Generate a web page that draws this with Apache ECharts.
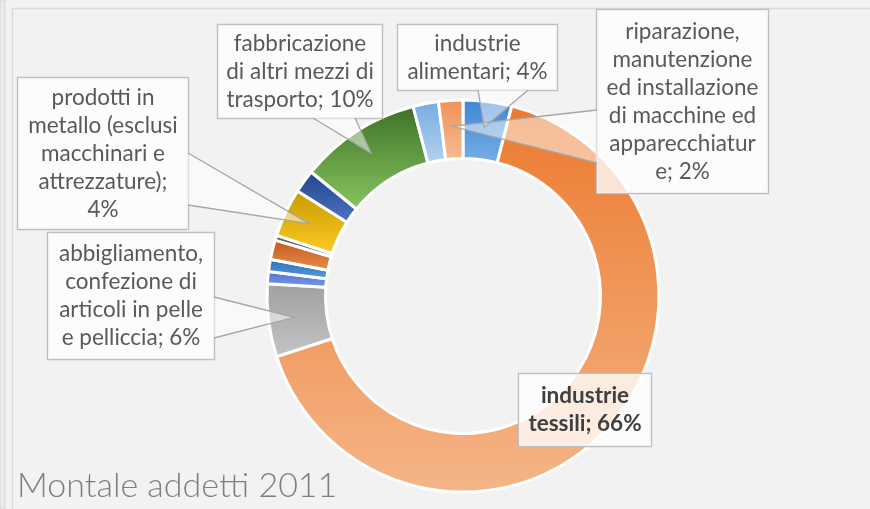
<!DOCTYPE html>
<html>
<head>
<meta charset="utf-8">
<script src="https://cdn.jsdelivr.net/npm/echarts@6/dist/echarts.min.js"></script>
<style>
  html, body { margin: 0; padding: 0; background: #f2f2f2; }
  #chart { width: 870px; height: 509px; }
</style>
</head>
<body>
<div id="chart"></div>
<script>
// Montale – addetti per settore manifatturiero, 2011 (quote percentuali)
const categories = [
  'industrie alimentari',
  'industrie tessili',
  'abbigliamento, confezione di articoli in pelle e pelliccia',
  'altri settori (a)',
  'altri settori (b)',
  'altri settori (c)',
  'altri settori (d)',
  'prodotti in metallo (esclusi macchinari e attrezzature)',
  'altri settori (e)',
  'fabbricazione di altri mezzi di trasporto',
  'altri settori (f)',
  'riparazione, manutenzione ed installazione di macchine ed apparecchiature'
];
const shares = [4, 66, 6, 1, 1, 1.6, 0.4, 4, 1.9, 10, 2.1, 2];

// Text of the data callouts ('#' is replaced by the rounded percentage)
const labelTemplates = [
  'industrie\nalimentari; #%',
  'industrie\ntessili; #%',
  'abbigliamento,\nconfezione di\narticoli in pelle\ne pelliccia; #%',
  '', '', '', '',
  'prodotti in\nmetallo (esclusi\nmacchinari e\nattrezzature);\n#%',
  '',
  'fabbricazione\ndi altri mezzi di\ntrasporto; #%',
  '',
  'riparazione,\nmanutenzione\ned installazione\ndi macchine ed\napparecchiatur\ne; #%'
];
const chartTitle = 'Montale addetti 2011';

// Slice fills: vertical gradient, darker on top
const sliceGradients = [
  ['#3f86d6', '#78aee4'],
  ['#ec7a2e', '#f5b588'],
  ['#a0a0a0', '#c4c4c4'],
  ['#4a6ed0', '#809ee2'],
  ['#2670b8', '#5d9cd8'],
  ['#c4561a', '#e8904f'],
  ['#545454', '#8a8a8a'],
  ['#c69a00', '#ffcb26'],
  ['#23458a', '#4c75c6'],
  ['#3d7127', '#88c660'],
  ['#76abe0', '#b4d2f0'],
  ['#ef9257', '#f7bb92']
];

// Ring geometry
const CENTER = [463, 296];
const R_IN = 137.5;
const R_OUT = 196;
const TIP_R = 170;
const LINE_H = 28;

// Callout boxes [left, top, width, height] and wedge base points on the box edge
const callouts = {
  0:  { box: [398, 25, 159, 65],  base: [[478, 90], [528, 90]] },
  1:  { box: [519, 374, 132, 72], base: null, bold: true },
  2:  { box: [48, 233, 166, 126], base: [[214, 297], [214, 338]] },
  7:  { box: [18, 78, 170, 151],  base: [[188, 153], [188, 205]] },
  9:  { box: [218, 25, 164, 93],  base: [[313, 118], [355, 118]] },
  11: { box: [597, 10, 171, 183], base: [[597, 110], [597, 163]] }
};

function buildLabel(i) {
  const c = callouts[i];
  if (!c) return { show: false };
  const lines = labelTemplates[i].split('\n').length;
  const padX = 5;
  const padY = Math.max(0, (c.box[3] - lines * LINE_H) / 2);
  return {
    show: true,
    position: 'outside',
    width: c.box[2] - 2 * padX,
    padding: [padY, padX, padY, padX],
    lineHeight: LINE_H,
    fontFamily: 'Lato, "Open Sans", sans-serif',
    fontSize: 22.5,
    fontWeight: c.bold ? 'bold' : 'normal',
    color: c.bold ? '#404040' : '#595959',
    backgroundColor: 'rgba(255,255,255,0.78)',
    borderColor: '#bfbfbf',
    borderWidth: 1.2,
    formatter: function (p) {
      return labelTemplates[p.dataIndex].replace('#', Math.round(p.percent));
    }
  };
}

const seriesData = categories.map(function (name, i) {
  const g = sliceGradients[i];
  return {
    name: name,
    value: shares[i],
    itemStyle: {
      color: {
        type: 'linear', x: 0, y: 0, x2: 0, y2: 1,
        colorStops: [{ offset: 0, color: g[0] }, { offset: 1, color: g[1] }]
      }
    },
    label: buildLabel(i),
    labelLine: { show: false }
  };
});

const frame = [
  { id: 'strip', type: 'rect', z: -10, silent: true,
    shape: { x: 0, y: 0, width: 5, height: 509 },
    style: { fill: '#ebebeb', stroke: '#d6d6d6', lineWidth: 1 } },
  { id: 'frame', type: 'rect', z: -10, silent: true,
    shape: { x: 12.5, y: 8.5, width: 900, height: 600 },
    style: { fill: '#f2f2f2', stroke: '#d9d9d9', lineWidth: 1.5 } }
];

const chart = echarts.init(document.getElementById('chart'), null, { renderer: 'canvas' });

chart.setOption({
  backgroundColor: '#f2f2f2',
  animation: false,
  title: {
    text: chartTitle,
    left: 17,
    top: 469,
    padding: 0,
    textStyle: {
      fontFamily: 'Lato, "Open Sans", sans-serif',
      fontWeight: 300,
      fontSize: 34,
      color: '#7f7f7f'
    }
  },
  graphic: { elements: frame },
  series: [{
    type: 'pie',
    center: CENTER,
    radius: [R_IN, R_OUT],
    startAngle: 90,
    clockwise: true,
    avoidLabelOverlap: false,
    itemStyle: { borderColor: '#ffffff', borderWidth: 3 },
    emphasis: { disabled: true },
    data: seriesData,
    labelLayout: function (params) {
      const c = callouts[params.dataIndex];
      if (!c) return {};
      return {
        x: c.box[0] + c.box[2] / 2,
        y: c.box[1] + c.box[3] / 2,
        align: 'center',
        verticalAlign: 'middle'
      };
    }
  }]
});

// Callout pointers: a wedge from each box edge to the middle of its slice,
// using the slice geometry laid out by the pie series.
const pieData = chart.getModel().getSeriesByIndex(0).getData();
const wedges = [];
Object.keys(callouts).forEach(function (key) {
  const i = +key;
  const c = callouts[i];
  if (!c.base) return;
  const lay = pieData.getItemLayout(i);
  const mid = (lay.startAngle + lay.endAngle) / 2;
  const tip = [lay.cx + TIP_R * Math.cos(mid), lay.cy + TIP_R * Math.sin(mid)];
  wedges.push({
    id: 'wedge-fill-' + i, type: 'polygon', z: 10, silent: true,
    shape: { points: [c.base[0], tip, c.base[1]] },
    style: { fill: 'rgba(255,255,255,0.5)', stroke: null }
  });
  wedges.push({
    id: 'wedge-line-' + i, type: 'polyline', z: 11, silent: true,
    shape: { points: [c.base[0], tip, c.base[1]] },
    style: { fill: null, stroke: '#a6a6a6', lineWidth: 1.3 }
  });
});
chart.setOption({ graphic: { elements: frame.concat(wedges) } });
</script>
</body>
</html>
